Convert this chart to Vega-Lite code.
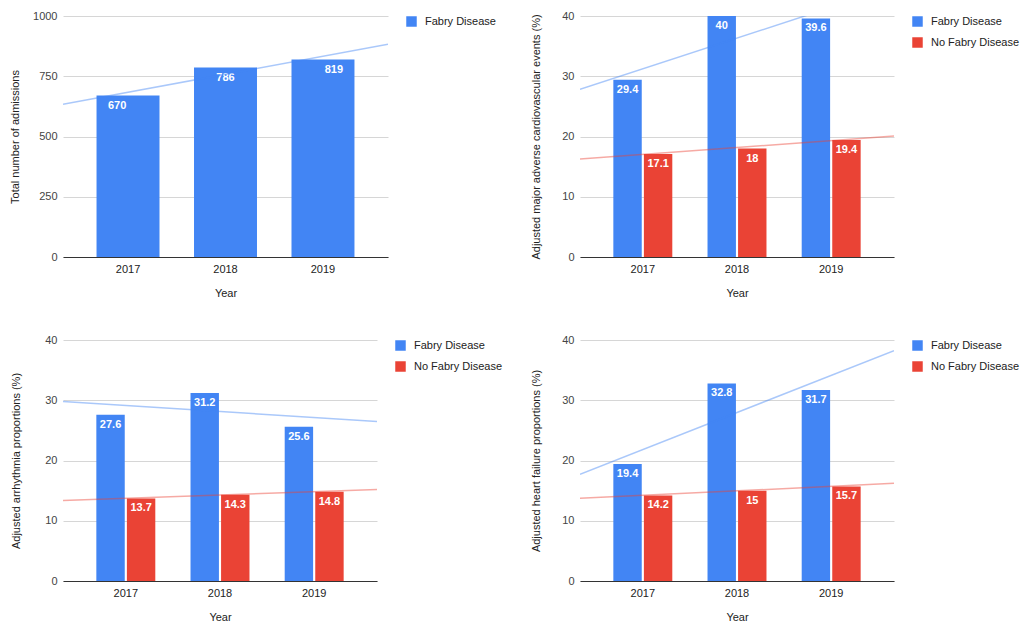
{
  "$schema": "https://vega.github.io/schema/vega-lite/v6.json",
  "padding": {"left": 9, "top": 10, "right": 0, "bottom": 0},
  "background": "white",
  "datasets": {
    "adm": [
      {"year": 2017, "series": "Fabry Disease", "value": 670},
      {"year": 2018, "series": "Fabry Disease", "value": 786},
      {"year": 2019, "series": "Fabry Disease", "value": 819}
    ],
    "mace": [
      {"year": 2017, "series": "Fabry Disease", "value": 29.4},
      {"year": 2018, "series": "Fabry Disease", "value": 40},
      {"year": 2019, "series": "Fabry Disease", "value": 39.6},
      {"year": 2017, "series": "No Fabry Disease", "value": 17.1},
      {"year": 2018, "series": "No Fabry Disease", "value": 18},
      {"year": 2019, "series": "No Fabry Disease", "value": 19.4}
    ],
    "arr": [
      {"year": 2017, "series": "Fabry Disease", "value": 27.6},
      {"year": 2018, "series": "Fabry Disease", "value": 31.2},
      {"year": 2019, "series": "Fabry Disease", "value": 25.6},
      {"year": 2017, "series": "No Fabry Disease", "value": 13.7},
      {"year": 2018, "series": "No Fabry Disease", "value": 14.3},
      {"year": 2019, "series": "No Fabry Disease", "value": 14.8}
    ],
    "hf": [
      {"year": 2017, "series": "Fabry Disease", "value": 19.4},
      {"year": 2018, "series": "Fabry Disease", "value": 32.8},
      {"year": 2019, "series": "Fabry Disease", "value": 31.7},
      {"year": 2017, "series": "No Fabry Disease", "value": 14.2},
      {"year": 2018, "series": "No Fabry Disease", "value": 15},
      {"year": 2019, "series": "No Fabry Disease", "value": 15.7}
    ]
  },
  "config": {
    "font": "Liberation Sans",
    "view": {"stroke": null},
    "axisY": {"domain": false, "ticks": false, "gridColor": "#d6d6d6", "labelFontSize": 11, "labelColor": "#444", "labelPadding": 6, "titleFontSize": 11, "titleFontWeight": "normal", "titleColor": "#222", "titlePadding": 20},
    "axisX": {"domainColor": "#333", "ticks": false, "grid": false, "labelAngle": 0, "labelFontSize": 11, "labelColor": "#222", "labelPadding": 6, "titleFontSize": 11, "titleFontWeight": "normal", "titleColor": "#222", "titlePadding": 13},
    "legend": {"orient": "right", "offset": 18, "symbolType": "square", "symbolSize": 110, "symbolStrokeWidth": 0, "labelFontSize": 11, "labelColor": "#222", "labelOffset": 8, "rowPadding": 9, "padding": 0}
  },
  "columns": 2,
  "align": "none",
  "spacing": {"column": 27, "row": 36},
  "resolve": {"scale": {"color": "independent"}, "legend": {"color": "independent"}},
  "concat": [
    {
      "width": 325, "height": 241,
      "data": {"name": "adm"},
      "resolve": {"scale": {"x": "independent"}},
      "layer": [
        {
          "mark": {"type": "bar"},
          "encoding": {
            "x": {"field": "year", "type": "ordinal", "scale": {"paddingInner": 0.354, "paddingOuter": 0.344}, "axis": {"title": "Year"}},
            "y": {"field": "value", "type": "quantitative", "scale": {"domain": [0, 1000], "nice": false}, "axis": {"title": "Total number of admissions", "values": [0, 250, 500, 750, 1000], "format": "d", "titlePadding": 12}},
            "color": {"field": "series", "type": "nominal", "scale": {"domain": ["Fabry Disease"], "range": ["#4285F4"]}, "legend": {"title": null}}
          }
        },
        {
          "mark": {"type": "text", "baseline": "top", "dy": 4, "fontWeight": "bold", "fontSize": 11, "color": "white"},
          "encoding": {
            "x": {"field": "year", "type": "ordinal", "scale": {"paddingInner": 0.354, "paddingOuter": 0.344}, "axis": null},
            "y": {"field": "value", "type": "quantitative"},
            "text": {"field": "value", "type": "quantitative"}
          }
        },
        {
          "transform": [{"regression": "value", "on": "year", "groupby": ["series"], "extent": [2016.333, 2019.667]}],
          "mark": {"type": "line", "clip": true, "strokeWidth": 1.5, "opacity": 0.45},
          "encoding": {
            "x": {"field": "year", "type": "quantitative", "scale": {"domain": [2016.333, 2019.667], "nice": false, "zero": false}, "axis": null},
            "y": {"field": "value", "type": "quantitative"},
            "color": {"field": "series", "type": "nominal", "legend": null}
          }
        }
      ]
    },
    {
      "width": 314, "height": 241,
      "data": {"name": "mace"},
      "resolve": {"scale": {"x": "independent"}},
      "layer": [
        {
          "mark": {"type": "bar"},
          "encoding": {
            "x": {"field": "year", "type": "ordinal", "scale": {"paddingInner": 0.374, "paddingOuter": 0.354}, "axis": {"title": "Year"}},
            "xOffset": {"field": "series", "type": "nominal", "scale": {"domain": ["Fabry Disease", "No Fabry Disease"], "paddingInner": 0.07, "paddingOuter": 0}},
            "y": {"field": "value", "type": "quantitative", "scale": {"domain": [0, 40], "nice": false}, "axis": {"title": "Adjusted major adverse cardiovascular events (%)", "values": [0, 10, 20, 30, 40]}},
            "color": {"field": "series", "type": "nominal", "scale": {"domain": ["Fabry Disease", "No Fabry Disease"], "range": ["#4285F4", "#EA4335"]}, "legend": {"title": null}}
          }
        },
        {
          "mark": {"type": "text", "baseline": "top", "dy": 4, "fontWeight": "bold", "fontSize": 11, "color": "white"},
          "encoding": {
            "x": {"field": "year", "type": "ordinal", "scale": {"paddingInner": 0.374, "paddingOuter": 0.354}, "axis": null},
            "xOffset": {"field": "series", "type": "nominal"},
            "y": {"field": "value", "type": "quantitative"},
            "text": {"field": "value", "type": "quantitative"}
          }
        },
        {
          "transform": [{"regression": "value", "on": "year", "groupby": ["series"], "extent": [2016.333, 2019.667]}],
          "mark": {"type": "line", "clip": true, "strokeWidth": 1.5, "opacity": 0.45},
          "encoding": {
            "x": {"field": "year", "type": "quantitative", "scale": {"domain": [2016.333, 2019.667], "nice": false, "zero": false}, "axis": null},
            "y": {"field": "value", "type": "quantitative"},
            "color": {"field": "series", "type": "nominal", "legend": null}
          }
        }
      ]
    },
    {
      "width": 314, "height": 241,
      "data": {"name": "arr"},
      "resolve": {"scale": {"x": "independent"}},
      "layer": [
        {
          "mark": {"type": "bar"},
          "encoding": {
            "x": {"field": "year", "type": "ordinal", "scale": {"paddingInner": 0.374, "paddingOuter": 0.354}, "axis": {"title": "Year"}},
            "xOffset": {"field": "series", "type": "nominal", "scale": {"domain": ["Fabry Disease", "No Fabry Disease"], "paddingInner": 0.07, "paddingOuter": 0}},
            "y": {"field": "value", "type": "quantitative", "scale": {"domain": [0, 40], "nice": false}, "axis": {"title": "Adjusted arrhythmia proportions (%)", "values": [0, 10, 20, 30, 40], "titlePadding": 23}},
            "color": {"field": "series", "type": "nominal", "scale": {"domain": ["Fabry Disease", "No Fabry Disease"], "range": ["#4285F4", "#EA4335"]}, "legend": {"title": null}}
          }
        },
        {
          "mark": {"type": "text", "baseline": "top", "dy": 4, "fontWeight": "bold", "fontSize": 11, "color": "white"},
          "encoding": {
            "x": {"field": "year", "type": "ordinal", "scale": {"paddingInner": 0.374, "paddingOuter": 0.354}, "axis": null},
            "xOffset": {"field": "series", "type": "nominal"},
            "y": {"field": "value", "type": "quantitative"},
            "text": {"field": "value", "type": "quantitative"}
          }
        },
        {
          "transform": [{"regression": "value", "on": "year", "groupby": ["series"], "extent": [2016.333, 2019.667]}],
          "mark": {"type": "line", "clip": true, "strokeWidth": 1.5, "opacity": 0.45},
          "encoding": {
            "x": {"field": "year", "type": "quantitative", "scale": {"domain": [2016.333, 2019.667], "nice": false, "zero": false}, "axis": null},
            "y": {"field": "value", "type": "quantitative"},
            "color": {"field": "series", "type": "nominal", "legend": null}
          }
        }
      ]
    },
    {
      "width": 314, "height": 241,
      "data": {"name": "hf"},
      "resolve": {"scale": {"x": "independent"}},
      "layer": [
        {
          "mark": {"type": "bar"},
          "encoding": {
            "x": {"field": "year", "type": "ordinal", "scale": {"paddingInner": 0.374, "paddingOuter": 0.354}, "axis": {"title": "Year"}},
            "xOffset": {"field": "series", "type": "nominal", "scale": {"domain": ["Fabry Disease", "No Fabry Disease"], "paddingInner": 0.07, "paddingOuter": 0}},
            "y": {"field": "value", "type": "quantitative", "scale": {"domain": [0, 40], "nice": false}, "axis": {"title": "Adjusted heart failure proportions (%)", "values": [0, 10, 20, 30, 40]}},
            "color": {"field": "series", "type": "nominal", "scale": {"domain": ["Fabry Disease", "No Fabry Disease"], "range": ["#4285F4", "#EA4335"]}, "legend": {"title": null}}
          }
        },
        {
          "mark": {"type": "text", "baseline": "top", "dy": 4, "fontWeight": "bold", "fontSize": 11, "color": "white"},
          "encoding": {
            "x": {"field": "year", "type": "ordinal", "scale": {"paddingInner": 0.374, "paddingOuter": 0.354}, "axis": null},
            "xOffset": {"field": "series", "type": "nominal"},
            "y": {"field": "value", "type": "quantitative"},
            "text": {"field": "value", "type": "quantitative"}
          }
        },
        {
          "transform": [{"regression": "value", "on": "year", "groupby": ["series"], "extent": [2016.333, 2019.667]}],
          "mark": {"type": "line", "clip": true, "strokeWidth": 1.5, "opacity": 0.45},
          "encoding": {
            "x": {"field": "year", "type": "quantitative", "scale": {"domain": [2016.333, 2019.667], "nice": false, "zero": false}, "axis": null},
            "y": {"field": "value", "type": "quantitative"},
            "color": {"field": "series", "type": "nominal", "legend": null}
          }
        }
      ]
    }
  ]
}
